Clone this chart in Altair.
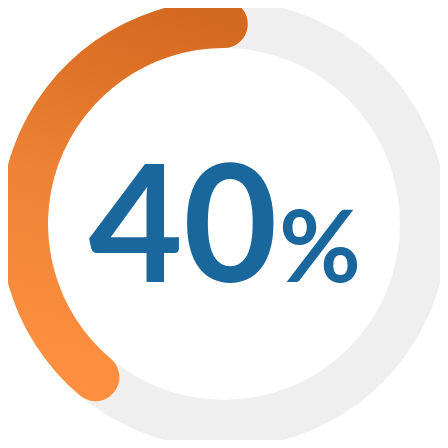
import altair as alt
import pandas as pd
import math

# data
value = 40
total = 100
cap_start = 1.9   # round-cap extension before the start, in percent units
cap_end = 0.8     # round-cap extension past the value, in percent units
number_label = "40"
percent_label = "%"

ring = pd.DataFrame({"start": [0], "end": [total]})
arc = pd.DataFrame({"start": [0 - cap_start], "end": [value + cap_end]})
num = pd.DataFrame({"t": [number_label]})
pct = pd.DataFrame({"t": [percent_label]})

theta_scale = alt.Scale(domain=[0, total], range=[2 * math.pi, 0])
CX, CY = 216, 216  # page (224,224) minus 8px margin

bg = alt.Chart(ring).mark_arc(
    color="#EFEFEF", radius=224, radius2=176
).encode(
    theta=alt.Theta("start:Q", scale=theta_scale),
    theta2="end:Q",
    x=alt.value(CX), y=alt.value(CY),
)

grad = alt.Gradient(
    gradient="linear",
    stops=[
        alt.GradientStop(color="#D3681F", offset=0),
        alt.GradientStop(color="#EE8335", offset=0.5),
        alt.GradientStop(color="#FF9041", offset=1),
    ],
    x1=0.6, y1=0, x2=0.4, y2=1,
)

fg = alt.Chart(arc).mark_arc(
    color=grad, radius=224, radius2=176, cornerRadius=24
).encode(
    theta=alt.Theta("start:Q", scale=theta_scale),
    theta2="end:Q",
    x=alt.value(CX), y=alt.value(CY),
)

t1 = alt.Chart(num).mark_text(
    font="Lato", fontWeight="bold", fontSize=163, color="#1A679E",
    align="center", baseline="alphabetic"
).encode(text="t:N", x=alt.value(175), y=alt.value(274))

t2 = alt.Chart(pct).mark_text(
    font="Lato", fontWeight="bold", fontSize=100, color="#1A679E",
    align="center", baseline="alphabetic"
).encode(text="t:N", x=alt.value(312), y=alt.value(274))

chart = alt.layer(bg, fg, t1, t2).properties(
    width=432, height=432,
    padding=0,
    autosize=alt.AutoSizeParams(type="none"),
).configure_view(stroke=None)

chart.save("out.html", embed_options={"renderer": "svg", "actions": False})
